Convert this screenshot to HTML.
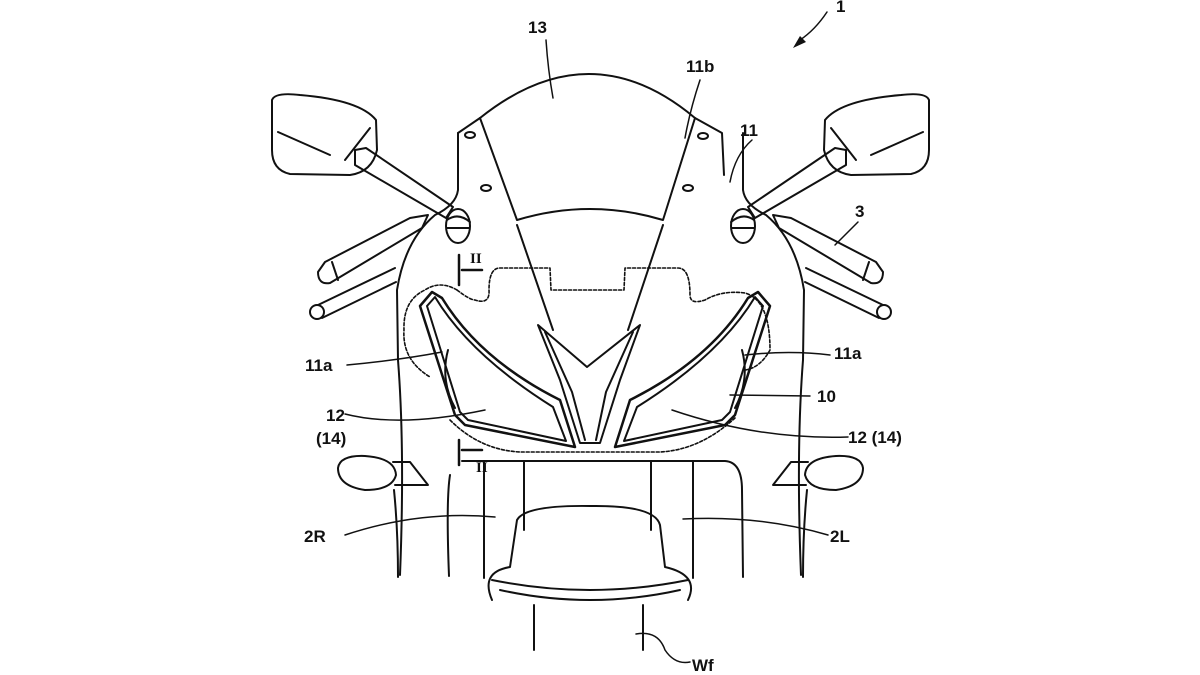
<!DOCTYPE html>
<html><head><meta charset="utf-8"><style>
html,body{margin:0;padding:0;background:#fff;}
svg{display:block}
text{font-family:"Liberation Sans",sans-serif;font-size:17px;fill:#111;font-weight:bold}
</style></head><body>
<svg width="1200" height="675" viewBox="0 0 1200 675" xmlns="http://www.w3.org/2000/svg">
<g fill="none" stroke="#111" stroke-width="2" stroke-linecap="round" stroke-linejoin="round">
<!-- mirrors/handlebars left, mirrored right -->
<g id="L">
 <path d="M272,100 Q275,92 300,95 Q360,100 376,120 L377,150 Q372,172 350,175 L290,174 Q272,170 272,150 Z"/>
 <path d="M278,132 L330,155 M345,160 L370,128"/>
 <path d="M355,150 L366,148 L453,207 L446,218 L355,165 Z"/>
 <ellipse cx="458" cy="226" rx="12" ry="17"/>
 <path d="M447,220 Q458,212 470,222 M447,228 L469,228"/>
 <path d="M325,262 L410,218 L428,215 L422,228 L330,283 Q318,285 318,272 Z M332,262 L338,280"/>
 <path d="M318,305 L395,268 M322,318 L396,282"/>
 <circle cx="317" cy="312" r="7"/>
 <path d="M458,133 L458,190 Q456,205 435,215 Q405,240 397,290 L398,360 Q405,450 400,575"/>
 <path d="M338,468 Q340,455 365,456 Q395,458 396,475 Q392,490 365,490 Q338,486 338,468 Z"/>
 <path d="M393,462 L410,462 L428,485 L395,485"/>
 <path d="M394,490 Q398,530 398,577"/>
</g>
<use href="#L" transform="translate(1201,0) scale(-1,1)"/>
<!-- windscreen -->
<path d="M458,133 L480,118 Q590,30 695,118 L722,133 L724,175"/>
<path d="M480,118 L517,220 Q590,198 663,220 L695,118"/>
<path d="M517,225 L553,330 M663,225 L628,330"/>
<ellipse cx="470" cy="135" rx="5" ry="3"/><ellipse cx="486" cy="188" rx="5" ry="3"/>
<ellipse cx="703" cy="136" rx="5" ry="3"/><ellipse cx="688" cy="188" rx="5" ry="3"/>
<!-- lights -->
<g id="H">
 <path d="M420,306 L432,292 L442,298 Q480,360 560,400 L575,447 L465,425 L455,415 Z" stroke-width="2.5"/>
 <path d="M427,306 L435,297 Q470,355 553,407 L566,441 L468,420 L460,412 Z"/>
 <path d="M448,350 Q440,380 455,408"/>
</g>
<use href="#H" transform="translate(1190,0) scale(-1,1)"/>
<path d="M538,325 L587,367 L640,325 L620,380 L600,443 L580,443 L560,380 Z"/>
<path d="M545,332 L572,392 L585,440 M633,332 L606,392 L596,440"/>
<!-- dotted -->
<g stroke-dasharray="3,2" stroke-width="1.6">
 <path d="M457,290 Q440,280 425,290 Q403,300 404,330 Q402,360 430,377 M457,290 Q470,300 475,300 Q490,305 489,290 Q489,268 500,268 L550,268 L551,290 L624,290 L625,268 L678,268 Q690,268 690,295 Q690,305 705,300 Q722,290 745,293 Q770,300 770,350 Q760,368 745,370"/>
 <path d="M450,420 Q480,450 520,452 L660,452 Q700,450 735,418"/>
</g>
<!-- section marks -->
<path d="M459,255 L459,285 M459,465 L459,440 M462,270 L482,270 M462,450 L482,450" stroke-width="2.5"/>
<path d="M462,461 L725,461 Q742,462 742,490 L743,577"/>
<!-- fork -->
<path d="M484,461 L484,578 M524,461 L524,530 M651,461 L651,530 M693,461 L693,578"/>
<path d="M450,475 Q446,500 449,576"/>
<path d="M517,520 Q525,505 590,506 Q655,505 660,525 L665,567 Q700,575 688,600 M517,520 L510,567 Q480,572 492,600"/>
<path d="M492,580 Q590,600 688,580 M500,590 Q590,610 680,590"/>
<path d="M534,605 L534,650 M643,605 L643,650"/>
<!-- leaders -->
<g stroke-width="1.5">
 <path d="M546,40 Q548,70 553,98"/>
 <path d="M700,80 Q690,110 685,138"/>
 <path d="M752,140 Q735,155 730,182"/>
 <path d="M858,222 Q845,235 835,245"/>
 <path d="M347,365 Q400,360 442,352 M830,355 Q790,350 745,355"/>
 <path d="M345,414 Q400,428 485,410 M848,437 Q760,440 672,410"/>
 <path d="M810,396 L730,395"/>
 <path d="M345,535 Q420,510 495,517 M828,535 Q760,515 683,519"/>
 <path d="M636,634 Q658,630 665,650 Q675,665 690,662"/>
 <path d="M827,12 Q815,30 800,40"/>
</g>
</g>
<path d="M793,48 L800,36 L806,42 Z" fill="#111"/>
<text x="528" y="33">13</text>
<text x="686" y="72">11b</text>
<text x="740" y="136">11</text>
<text x="855" y="217">3</text>
<text x="305" y="371">11a</text>
<text x="834" y="359">11a</text>
<text x="817" y="402">10</text>
<text x="326" y="421">12</text>
<text x="316" y="444">(14)</text>
<text x="848" y="443">12 (14)</text>
<text x="304" y="542">2R</text>
<text x="830" y="542">2L</text>
<text x="692" y="671">Wf</text>
<text x="836" y="12">1</text>
<text x="470" y="263" style="font-family:'Liberation Serif',serif;font-size:15px">II</text>
<text x="476" y="472" style="font-family:'Liberation Serif',serif;font-size:15px">II</text>
</svg>
</body></html>
